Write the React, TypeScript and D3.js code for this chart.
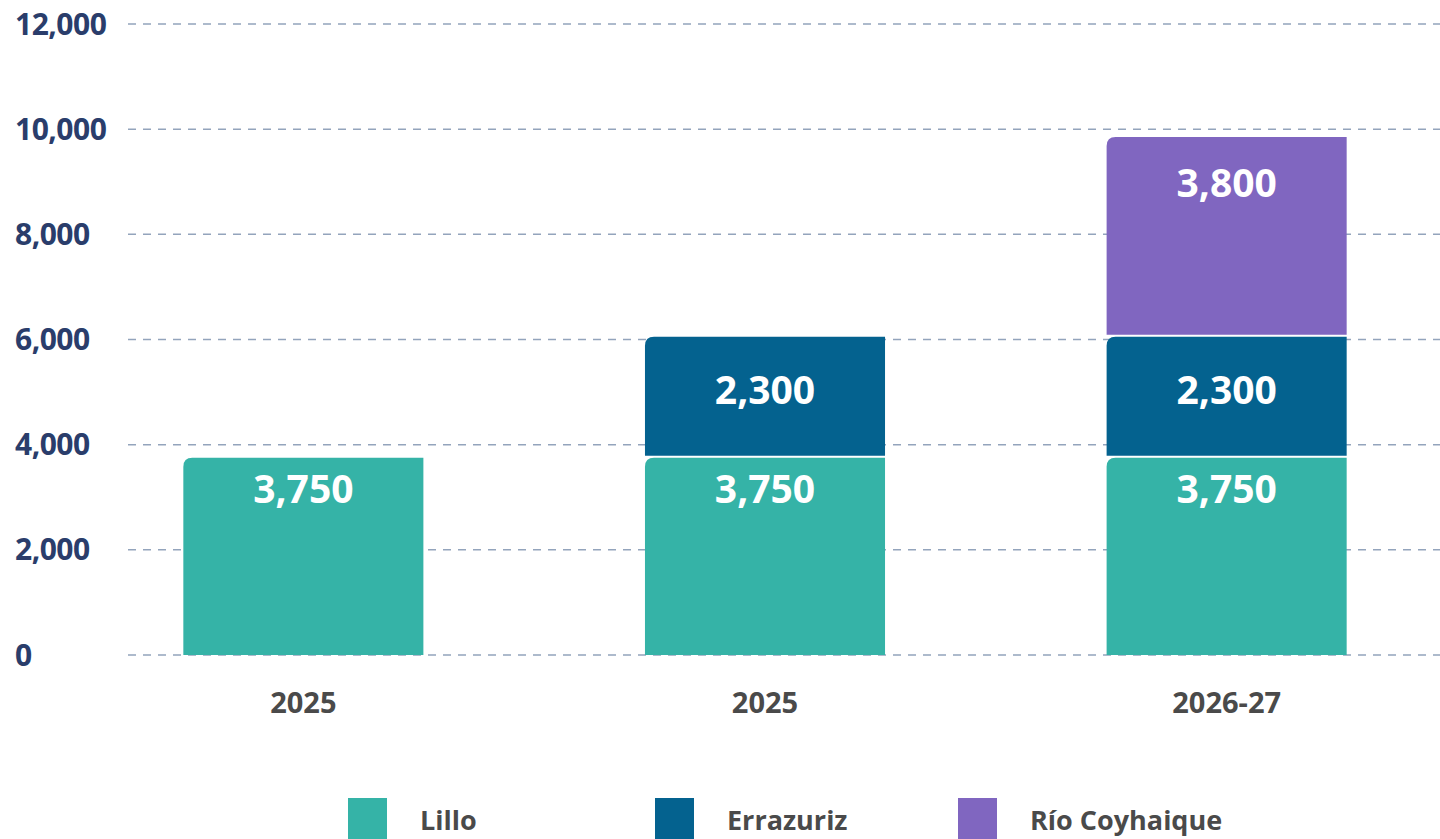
import React from "react";
import * as d3 from "d3";

const categories = ["2025", "2025", "2026-27"];
const seriesNames = ["Lillo", "Errazuriz", "Río Coyhaique"];
const lilloValues = [3750, 3750, 3750];
const errazurizValues = [0, 2300, 2300];
const rioValues = [0, 0, 3800];
const yTicks = [0, 2000, 4000, 6000, 8000, 10000, 12000];
const colors = ["#35b3a7", "#04628f", "#8066c0"];

const W = 1440;
const H = 839;
const FONT = "'Open Sans', 'Noto Sans', sans-serif";

function topLeftRounded(x: number, y: number, w: number, h: number, r: number) {
  const rr = Math.min(r, h, w);
  return `M${x},${y + h} L${x},${y + rr} Q${x},${y} ${x + rr},${y} L${x + w},${y} L${x + w},${y + h} Z`;
}

export default function App() {
  const rows = categories.map((c, i) => ({
    idx: String(i),
    cat: c,
    Lillo: lilloValues[i],
    Errazuriz: errazurizValues[i],
    "Río Coyhaique": rioValues[i],
  }));
  const stack = d3.stack<any>().keys(seriesNames);
  const stacked = stack(rows);

  const x = d3
    .scaleBand<string>()
    .domain(rows.map((r) => r.idx))
    .range([91, 1439])
    .paddingInner(0.48)
    .paddingOuter(0.2);
  const y = d3.scaleLinear().domain([0, 12000]).range([655, 24]);
  const fmt = d3.format(",");

  const labelOffset = (si: number, top: number, bottom: number) => {
    if (si === 0) return top + 32;
    if (si === 1) return (top + bottom) / 2 - 6;
    return top + 46;
  };

  return (
    <svg
      width={W}
      height={H}
      style={{ position: "absolute", left: 0, top: 0, background: "#fff" }}
    >
      {yTicks.map((t) => (
        <g key={t}>
          <line
            x1={128}
            x2={W}
            y1={y(t)}
            y2={y(t)}
            stroke="#93a4bc"
            strokeWidth={1.5}
            strokeDasharray="8,7"
          />
          <text
            x={15}
            y={y(t)}
            dy="0.35em"
            fontFamily={FONT}
            fontWeight={700}
            fontSize={30}
            fill="#2a3d6b"
            letterSpacing={-0.5}
          >
            {fmt(t)}
          </text>
        </g>
      ))}
      {stacked.map((s, si) =>
        s.map((d, i) => {
          const v = d[1] - d[0];
          if (v <= 0) return null;
          const top = y(d[1]);
          const bottom = d[0] > 0 ? y(d[0]) - 2 : y(d[0]);
          const bx = x(String(i))!;
          const bw = x.bandwidth();
          return (
            <g key={`${si}-${i}`}>
              <path d={topLeftRounded(bx, top, bw, bottom - top, 9)} fill={colors[si]} />
              <text
                x={bx + bw / 2}
                y={labelOffset(si, top, bottom)}
                dy="0.35em"
                textAnchor="middle"
                fontFamily={FONT}
                fontWeight={700}
                fontSize={39}
                fill="#ffffff"
              >
                {fmt(v)}
              </text>
            </g>
          );
        })
      )}
      {rows.map((r) => (
        <text
          key={r.idx}
          x={x(r.idx)! + x.bandwidth() / 2}
          y={703}
          dy="0.35em"
          textAnchor="middle"
          fontFamily={FONT}
          fontWeight={700}
          fontSize={29}
          fill="#4a4a4a"
        >
          {r.cat}
        </text>
      ))}
      {seriesNames.map((n, i) => {
        const lx = [348, 655, 958][i];
        return (
          <g key={n}>
            <rect x={lx} y={798} width={39} height={45} fill={colors[i]} />
            <text
              x={lx + 72}
              y={821}
              dy="0.35em"
              fontFamily={FONT}
              fontWeight={700}
              fontSize={27}
              fill="#4a4a4a"
            >
              {n}
            </text>
          </g>
        );
      })}
    </svg>
  );
}
